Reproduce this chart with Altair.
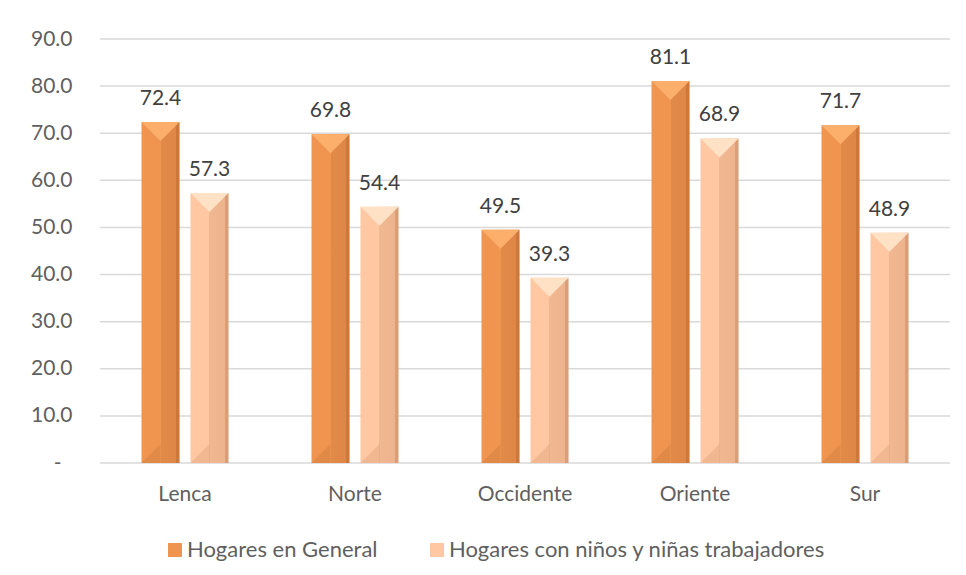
import altair as alt
import pandas as pd

regiones = ["Lenca", "Norte", "Occidente", "Oriente", "Sur"]
series = ["Hogares en General", "Hogares con niños y niñas trabajadores"]
hogares_general = [72.4, 69.8, 49.5, 81.1, 71.7]
hogares_ninos = [57.3, 54.4, 39.3, 68.9, 48.9]
y_ticks = [0, 10, 20, 30, 40, 50, 60, 70, 80, 90]

rows = []
for r, g, n in zip(regiones, hogares_general, hogares_ninos):
    rows.append({"region": r, "serie": series[0], "valor": g})
    rows.append({"region": r, "serie": series[1], "valor": n})
df = pd.DataFrame(rows)
grid_df = pd.DataFrame({"tick": y_ticks})

W, H = 850, 424
BAR_W = 38
FONT = "Lato"

face_colors = ["#EF9550", "#FFC8A2"]
cap_colors = ["#FCAF6B", "#FFE2C6"]

y_axis = alt.Axis(
    values=y_ticks, grid=False, domain=False, ticks=False, tickSize=0,
    labelPadding={"condition": {"test": "datum.value == 0", "value": 39}, "value": 28},
    labelFontSize=21, labelColor="#5F5F5F", labelFont=FONT,
    labelExpr="datum.value == 0 ? '-' : format(datum.value, '.1f')",
)
y_scale = alt.Scale(domain=[0, 90], nice=False, zero=True)

x_enc = alt.X(
    "region:N", sort=regiones, title=None,
    scale=alt.Scale(paddingInner=0, paddingOuter=0),
    axis=alt.Axis(labelAngle=0, domain=False, ticks=False, tickSize=0,
                  labelPadding=20, labelFontSize=21, labelColor="#5F5F5F",
                  labelFont=FONT),
)
xoff = alt.XOffset("serie:N", sort=series,
                   scale=alt.Scale(paddingInner=0.224, paddingOuter=0.847))

base = alt.Chart(df)

grid = alt.Chart(grid_df).mark_rule(color="#D9D9D9", strokeWidth=1.5).encode(
    y=alt.Y("tick:Q", scale=y_scale, axis=y_axis, title=None)
)

y_enc = alt.Y("valor:Q", scale=y_scale, axis=y_axis, title=None)

bars = base.mark_bar().encode(
    x=x_enc, xOffset=xoff, y=y_enc,
    color=alt.Color(
        "serie:N", sort=series, title=None,
        scale=alt.Scale(domain=series, range=face_colors),
        legend=alt.Legend(
            orient="none", legendX=64, legendY=500, direction="horizontal",
            symbolType="square", symbolSize=196, symbolStrokeWidth=0,
            labelFontSize=22, labelColor="#5F5F5F", labelFont=FONT,
            labelOffset=1, columnPadding=48, padding=0, labelLimit=600,
        ),
    ),
)

shade = alt.Gradient(
    gradient="linear", x1=0, x2=1, y1=0, y2=0,
    stops=[
        alt.GradientStop(offset=0, color="rgba(110,40,0,0)"),
        alt.GradientStop(offset=0.5, color="rgba(110,40,0,0)"),
        alt.GradientStop(offset=0.5, color="rgba(110,40,0,0.10)"),
        alt.GradientStop(offset=0.92, color="rgba(110,40,0,0.13)"),
        alt.GradientStop(offset=0.92, color="rgba(110,40,0,0.26)"),
        alt.GradientStop(offset=1, color="rgba(110,40,0,0.26)"),
    ],
)
overlay = base.mark_bar(color=shade).encode(x=x_enc, xOffset=xoff, y=y_enc)

is_gen = alt.datum.serie == series[0]
caps = base.mark_point(
    shape="M-1,0L1,0L0,1Z", size=BAR_W * BAR_W, filled=True, opacity=1,
    strokeWidth=0,
).encode(
    x=x_enc, xOffset=xoff, y=y_enc,
    color=alt.condition(is_gen, alt.value(cap_colors[0]), alt.value(cap_colors[1])),
)

bottoms = base.transform_calculate(cero="0").mark_point(
    shape="M-1,0L0,0L0,-1Z", size=BAR_W * BAR_W, filled=True,
    fill="#6E2800", fillOpacity=0.10, strokeWidth=0,
).encode(
    x=x_enc, xOffset=xoff,
    y=alt.Y("cero:Q", scale=y_scale, axis=y_axis, title=None),
)

labels = base.mark_text(
    dy=-23, baseline="middle", align="center", fontSize=21, font=FONT,
    color="#404040",
).encode(
    x=x_enc, xOffset=xoff, y=y_enc,
    text=alt.Text("valor:Q", format=".1f"),
)

chart = alt.layer(grid, bars, overlay, caps, bottoms, labels).properties(
    width=W, height=H,
    padding={"left": 92, "top": 31, "right": 8, "bottom": 104},
    autosize=alt.AutoSizeParams(type="none"),
    background="white",
).configure_view(stroke=None)

chart.save("out.html", embed_options={"renderer": "svg", "actions": False})
